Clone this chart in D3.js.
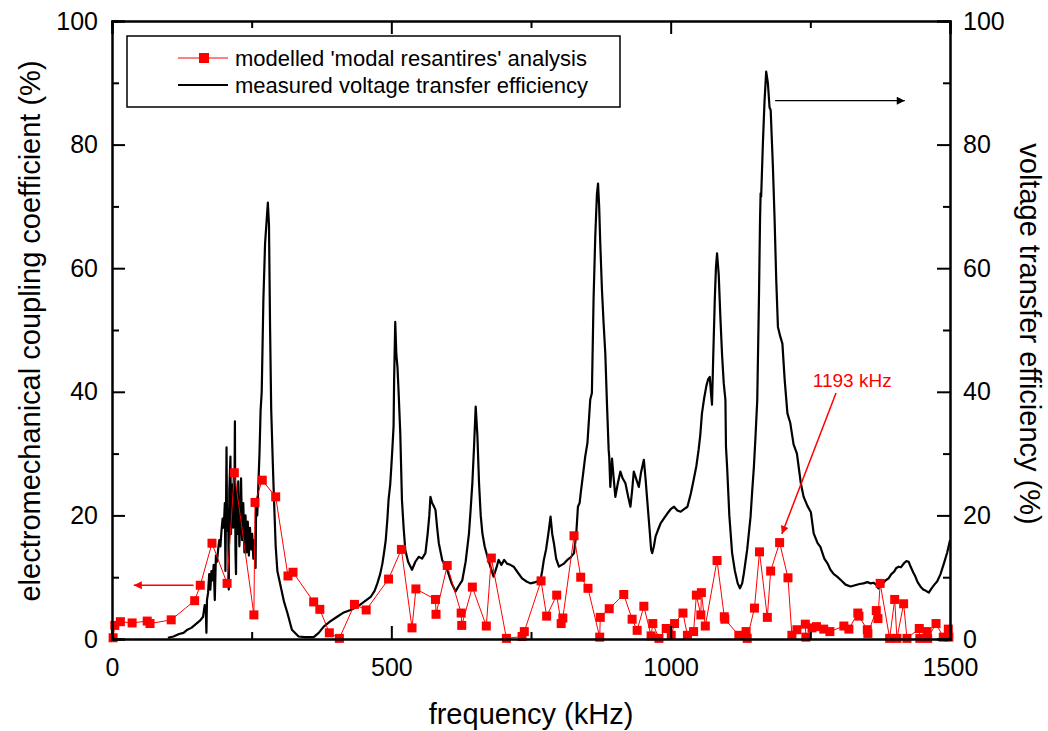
<!DOCTYPE html>
<html>
<head>
<meta charset="utf-8">
<script src="https://cdn.jsdelivr.net/npm/d3@7"></script>
<style>
  body { margin: 0; background: #fff; }
  svg { display: block; font-family: Arial, "Liberation Sans", sans-serif; }
</style>
</head>
<body>
<svg id="chart" width="1048" height="731"></svg>
<script>
// ---------- DATA ----------
const xTicks = [0, 500, 1000, 1500];
const xMinorTicks = [250, 750, 1250];
const yTicks = [0, 20, 40, 60, 80, 100];
const yMinorTicks = [10, 30, 50, 70, 90];

// modelled 'modal resantires' analysis (left axis, %)
const modelFreq = [2, 5, 15, 36, 63, 68, 106, 148, 158, 179, 206, 219, 254, 256, 269, 293, 315, 324, 361, 372,
  389, 407, 434, 455, 495, 518, 537, 544, 579, 580, 600, 625, 626, 645, 670, 679, 706, 734, 738, 768,
  778, 796, 804, 807, 827, 839, 852, 873, 874, 890, 916, 931, 940, 952, 965, 968, 979, 992, 1001, 1007,
  1022, 1030, 1041, 1046, 1054, 1055, 1062, 1083, 1096, 1097, 1122, 1135, 1137, 1150, 1159, 1173, 1179, 1195, 1210, 1217,
  1226, 1241, 1242, 1253, 1261, 1274, 1285, 1310, 1319, 1335, 1337, 1352, 1353, 1368, 1371, 1375, 1392, 1401, 1405, 1417,
  1423, 1445, 1446, 1459, 1460, 1475, 1488, 1497, 1498];
const modelCoupling = [0.2, 2.2, 2.8, 2.6, 2.9, 2.5, 3.1, 6.2, 8.7, 15.5, 9.0, 26.9, 3.9, 22.1, 25.7, 23.0, 10.2, 10.8, 6.0, 4.8,
  1.0, 0.1, 5.6, 4.7, 9.7, 14.5, 1.8, 8.1, 6.4, 4.0, 11.9, 4.2, 2.2, 8.4, 2.1, 13.1, 0.1, 0.4, 1.2, 9.4,
  3.7, 7.1, 2.5, 3.4, 16.7, 10.0, 8.2, 0.3, 3.5, 4.9, 7.2, 3.2, 1.4, 5.3, 0.5, 2.5, 0.1, 1.7, 0.6, 2.5,
  4.2, 0.6, 1.2, 7.1, 3.9, 7.5, 2.1, 12.7, 3.6, 3.2, 0.6, 1.2, 0.1, 5.0, 14.1, 3.5, 11.0, 15.6, 9.9, 0.6,
  1.5, 2.4, 0.3, 1.8, 2.0, 1.6, 1.2, 2.1, 1.6, 4.2, 3.7, 1.5, 0.9, 4.6, 3.3, 9.0, 0.1, 6.4, 0.1, 5.7,
  0.1, 1.7, 0.1, 1.2, 0.1, 2.5, 0.3, 1.6, 0.3];

// measured voltage transfer efficiency (right axis, %)
const measFreq = [100, 110, 120, 128, 135, 142, 150, 158, 163, 166, 168, 169, 170, 172, 174, 176, 178, 180, 182, 184,
  186, 188, 190, 192, 194, 196, 198, 200, 202, 203, 204, 205, 206, 208, 209, 210, 212, 213, 215, 217,
  218, 219, 220, 221, 222, 223, 225, 226, 228, 230, 231, 233, 235, 237, 239, 241, 243, 245, 247, 249,
  251, 253, 255, 257, 258, 260, 262, 264, 266, 268, 271, 274, 277, 279, 281, 283, 285, 288, 290, 293,
  296, 302, 308, 314, 322, 334, 345, 361, 370, 379, 390, 403, 415, 427, 439, 451, 463, 470, 475, 480,
  484, 487, 490, 493, 495, 498, 500, 502, 504, 505, 507, 509, 511, 513, 516, 519, 522, 525, 530, 537,
  543, 549, 555, 561, 565, 568, 570, 573, 576, 579, 582, 585, 591, 600, 608, 615, 620, 627, 633, 639,
  642, 645, 648, 651, 654, 657, 660, 663, 667, 672, 678, 683, 688, 692, 697, 702, 707, 713, 719, 726,
  734, 742, 749, 758, 767, 770, 773, 777, 781, 785, 788, 791, 795, 800, 805, 809, 815, 821, 827, 831,
  834, 837, 839, 843, 847, 851, 856, 859, 862, 865, 868, 870, 872, 874, 877, 880, 883, 886, 889, 890,
  892, 895, 898, 901, 905, 910, 914, 919, 924, 928, 931, 934, 938, 943, 947, 952, 955, 958, 962, 965,
  967, 970, 973, 978, 982, 988, 994, 1000, 1006, 1012, 1018, 1024, 1030, 1036, 1041, 1046, 1050, 1053, 1056, 1060,
  1064, 1067, 1070, 1072, 1074, 1076, 1079, 1081, 1083, 1086, 1089, 1092, 1095, 1098, 1099, 1101, 1105, 1110, 1115, 1120,
  1124, 1128, 1131, 1137, 1143, 1146, 1149, 1152, 1155, 1158, 1160, 1161, 1162, 1165, 1168, 1171, 1174, 1177, 1179, 1183,
  1186, 1189, 1192, 1196, 1200, 1204, 1209, 1214, 1220, 1226, 1233, 1238, 1245, 1251, 1256, 1263, 1268, 1275, 1281, 1286,
  1292, 1298, 1305, 1313, 1322, 1330, 1338, 1345, 1352, 1358, 1363, 1368, 1372, 1375, 1380, 1385, 1390, 1395, 1400, 1404,
  1408, 1412, 1418, 1422, 1426, 1430, 1434, 1438, 1442, 1447, 1452, 1457, 1462, 1467, 1472, 1477, 1483, 1489, 1495, 1500];
const measEfficiency = [0.2, 0.4, 0.8, 1.0, 1.5, 1.8, 2.4, 3.0, 3.6, 5.5, 4.5, 1.0, 6.3, 7.5, 10.5, 8.0, 11.0, 9.5, 12.0, 6.3,
  13.5, 12.5, 14.5, 16.0, 15.0, 17.5, 19.5, 18.0, 22.0, 11.0, 20.0, 31.0, 17.5, 21.0, 8.0, 24.0, 29.5, 17.0, 25.0, 18.0,
  27.0, 21.0, 35.2, 14.0, 10.5, 24.0, 17.0, 25.5, 15.0, 20.0, 26.0, 16.0, 22.0, 14.0, 20.0, 14.0, 19.0, 13.5, 18.0, 14.5,
  17.0, 13.0, 16.0, 11.5, 22.5, 20.0, 25.0, 30.0, 37.0, 40.0, 55.0, 64.0, 68.0, 70.6, 67.0, 50.0, 37.0, 28.0, 22.5, 15.0,
  11.0, 8.5, 6.0, 4.2, 1.5, 0.4, 0.3, 0.3, 1.0, 2.0, 2.8, 3.6, 4.3, 4.7, 5.2, 6.0, 6.8, 7.8, 9.0, 10.5,
  12.2, 14.0, 16.0, 19.5, 22.5, 25.0, 27.9, 31.0, 34.4, 42.0, 51.3, 46.0, 44.0, 40.0, 33.3, 22.5, 18.0, 14.4, 12.5, 11.2,
  12.5, 13.3, 13.0, 13.9, 17.0, 20.0, 23.0, 22.0, 21.5, 20.9, 18.0, 15.5, 12.8, 11.2, 9.0, 7.7, 8.5, 9.5, 12.5, 17.1,
  21.0, 25.2, 31.0, 37.6, 33.0, 25.2, 20.0, 17.1, 15.0, 13.3, 11.5, 10.1, 11.5, 12.8, 12.0, 12.8, 12.2, 12.0, 11.7, 10.8,
  9.8, 9.3, 9.0, 9.2, 9.5, 11.0, 12.8, 14.5, 17.0, 19.8, 17.0, 15.5, 13.0, 11.7, 12.0, 12.2, 12.8, 13.2, 13.9, 17.0,
  21.4, 22.0, 23.6, 26.5, 29.5, 31.7, 38.7, 39.8, 55.0, 65.0, 72.0, 73.7, 70.0, 64.0, 56.5, 51.0, 46.2, 38.0, 30.6, 29.5,
  24.6, 29.2, 26.0, 23.0, 25.0, 27.1, 26.0, 25.2, 23.0, 21.4, 24.0, 27.1, 26.0, 24.6, 27.0, 29.0, 26.0, 22.5, 18.0, 14.5,
  13.9, 15.0, 16.6, 17.8, 18.7, 19.5, 20.3, 21.0, 21.4, 20.8, 20.6, 21.0, 21.4, 23.5, 25.7, 28.0, 30.6, 33.0, 36.5, 39.0,
  41.0, 42.0, 42.4, 40.0, 37.9, 45.0, 55.0, 60.0, 62.4, 59.0, 52.0, 46.0, 41.4, 38.7, 31.1, 27.9, 20.0, 13.9, 11.0, 9.0,
  8.2, 9.0, 10.6, 14.5, 19.8, 24.0, 27.9, 33.0, 38.7, 55.0, 68.0, 72.1, 71.6, 80.0, 87.0, 91.8, 90.0, 86.0, 85.6, 76.4,
  68.0, 58.0, 50.5, 49.0, 47.8, 42.0, 36.5, 35.0, 31.5, 30.0, 25.2, 23.0, 21.5, 20.5, 17.1, 15.5, 14.9, 13.0, 12.2, 11.2,
  10.5, 10.1, 9.5, 8.8, 8.5, 8.7, 8.9, 9.0, 9.2, 9.0, 9.1, 8.8, 8.2, 8.5, 9.0, 9.5, 9.8, 10.5, 10.9, 11.5,
  11.7, 11.6, 12.3, 12.6, 12.5, 11.6, 10.8, 10.1, 9.2, 8.5, 8.0, 7.8, 7.5, 8.2, 8.8, 9.3, 10.5, 12.2, 14.0, 16.0];

const legendLabels = ["modelled 'modal resantires' analysis", "measured voltage transfer efficiency"];
const annotationText = "1193 kHz";

// ---------- DRAW ----------
const svg = d3.select("#chart");
const L = 112, R = 950, T = 21, B = 639;
const x = d3.scaleLinear().domain([0, 1500]).range([L, R]);
const yL = d3.scaleLinear().domain([0, 100]).range([B, T]);
const yR = d3.scaleLinear().domain([0, 100]).range([B, T]);

const defs = svg.append("defs");
function marker(id, color, w, h) {
  defs.append("marker").attr("id", id).attr("viewBox", "0 0 10 10")
    .attr("refX", 10).attr("refY", 5).attr("markerWidth", w).attr("markerHeight", h)
    .attr("markerUnits", "userSpaceOnUse").attr("orient", "auto")
    .append("path").attr("d", "M0,0 L10,5 L0,10 Z").attr("fill", color);
}
marker("arrRed", "#ff0000", 13, 8);
marker("arrBlack", "#000", 14, 8);

const clip = defs.append("clipPath").attr("id", "clip");
clip.append("rect").attr("x", L).attr("y", T - 2).attr("width", R - L).attr("height", B - T + 4);

// measured line
const measData = measFreq.map((f, i) => [f, measEfficiency[i]]);
svg.append("path").datum(measData)
  .attr("clip-path", "url(#clip)")
  .attr("fill", "none").attr("stroke", "#000").attr("stroke-width", 2.2)
  .attr("stroke-linejoin", "round")
  .attr("d", d3.line().x(d => x(d[0])).y(d => yR(d[1])));

// modelled line + markers
const modelData = modelFreq.map((f, i) => [f, modelCoupling[i]]);
svg.append("path").datum(modelData)
  .attr("fill", "none").attr("stroke", "#ff0000").attr("stroke-width", 1)
  .attr("d", d3.line().x(d => x(d[0])).y(d => yL(d[1])));
svg.append("g").selectAll("rect").data(modelData).join("rect")
  .attr("x", d => x(d[0]) - 4.5).attr("y", d => yL(d[1]) - 4.5)
  .attr("width", 9).attr("height", 9).attr("fill", "#ff0000");

// axes
const fontTick = 25;
function styleAxis(g) {
  g.select(".domain").attr("stroke", "#000").attr("stroke-width", 2);
  g.selectAll(".tick line").attr("stroke", "#000").attr("stroke-width", 2);
  g.selectAll(".tick text").attr("fill", "#000").style("font-size", fontTick + "px")
    .style("font-family", "Arial, 'Liberation Sans', sans-serif");
}
// bottom
svg.append("g").attr("transform", `translate(0,${B})`)
  .call(d3.axisBottom(x).tickValues(xTicks).tickSize(-13).tickPadding(19).tickFormat(d3.format("d")))
  .call(styleAxis);
svg.append("g").attr("transform", `translate(0,${B})`)
  .call(d3.axisBottom(x).tickValues(xMinorTicks).tickSize(-7).tickFormat(""))
  .call(styleAxis);
// top
svg.append("g").attr("transform", `translate(0,${T})`)
  .call(d3.axisTop(x).tickValues(xTicks).tickSize(-13).tickFormat(""))
  .call(styleAxis);
svg.append("g").attr("transform", `translate(0,${T})`)
  .call(d3.axisTop(x).tickValues(xMinorTicks).tickSize(-7).tickFormat(""))
  .call(styleAxis);
// left
svg.append("g").attr("transform", `translate(${L},0)`)
  .call(d3.axisLeft(yL).tickValues(yTicks).tickSize(-13).tickPadding(14).tickFormat(d3.format("d")))
  .call(styleAxis);
svg.append("g").attr("transform", `translate(${L},0)`)
  .call(d3.axisLeft(yL).tickValues(yMinorTicks).tickSize(-7).tickFormat(""))
  .call(styleAxis);
// right
svg.append("g").attr("transform", `translate(${R},0)`)
  .call(d3.axisRight(yR).tickValues(yTicks).tickSize(-13).tickPadding(13).tickFormat(d3.format("d")))
  .call(styleAxis);
svg.append("g").attr("transform", `translate(${R},0)`)
  .call(d3.axisRight(yR).tickValues(yMinorTicks).tickSize(-7).tickFormat(""))
  .call(styleAxis);

// axis titles
svg.append("text").attr("x", 531).attr("y", 724)
  .attr("text-anchor", "middle").style("font-size", "29px").text("frequency (kHz)");
svg.append("text").attr("transform", `translate(40,331) rotate(-90)`)
  .attr("text-anchor", "middle").style("font-size", "29px").text("electromechanical coupling coefficient (%)");
svg.append("text").attr("transform", `translate(1020,334) rotate(90)`)
  .attr("text-anchor", "middle").style("font-size", "29px").text("voltage transfer efficiency (%)");

// legend
const lg = svg.append("g");
lg.append("rect").attr("x", 127).attr("y", 36).attr("width", 493).attr("height", 71)
  .attr("fill", "#fff").attr("stroke", "#000").attr("stroke-width", 1.5);
lg.append("line").attr("x1", 178).attr("x2", 228).attr("y1", 58).attr("y2", 58)
  .attr("stroke", "#ff0000").attr("stroke-width", 1);
lg.append("rect").attr("x", 199).attr("y", 53).attr("width", 10).attr("height", 10).attr("fill", "#ff0000");
lg.append("line").attr("x1", 178).attr("x2", 228).attr("y1", 85).attr("y2", 85)
  .attr("stroke", "#000").attr("stroke-width", 2);
lg.append("text").attr("x", 235).attr("y", 66).style("font-size", "22px").text(legendLabels[0]);
lg.append("text").attr("x", 235).attr("y", 93).style("font-size", "22px").text(legendLabels[1]);

// annotations
svg.append("line").attr("x1", x(146)).attr("y1", yL(8.7)).attr("x2", x(39)).attr("y2", yL(8.7))
  .attr("stroke", "#ff0000").attr("stroke-width", 1.3).attr("marker-end", "url(#arrRed)");
svg.append("line").attr("x1", x(1187)).attr("y1", yR(87.1)).attr("x2", x(1419)).attr("y2", yR(87.1))
  .attr("stroke", "#000").attr("stroke-width", 1.3).attr("marker-end", "url(#arrBlack)");
svg.append("line").attr("x1", x(1296)).attr("y1", yL(39.8)).attr("x2", x(1199)).attr("y2", yL(17.0))
  .attr("stroke", "#ff0000").attr("stroke-width", 1.5).attr("marker-end", "url(#arrRed)");
svg.append("text").attr("x", x(1325)).attr("y", 387).attr("text-anchor", "middle")
  .attr("fill", "#ff0000").style("font-size", "19px").text(annotationText);
</script>
</body>
</html>
